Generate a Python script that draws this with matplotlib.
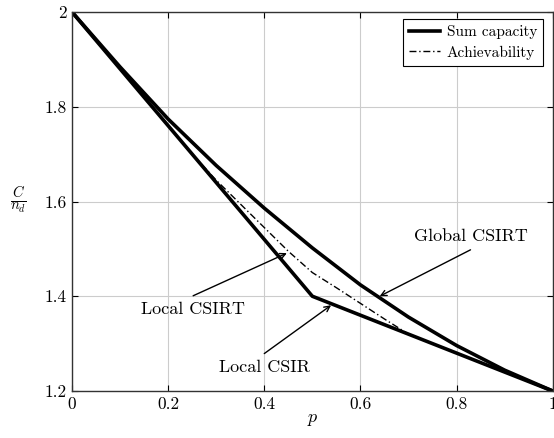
"""Sum capacity vs. erasure probability p (Global CSIRT / Local CSIR / Local CSIRT)."""
import matplotlib
matplotlib.use("Agg")
import matplotlib.pyplot as plt

# --- data ---
p_global = [0.0, 0.1, 0.2, 0.3, 0.4, 0.5, 0.6, 0.7, 0.8, 0.9, 1.0]
c_global = [2.0, 1.884, 1.774, 1.676, 1.586, 1.502, 1.424, 1.356, 1.296, 1.244, 1.2]

p_local_csir = [0.0, 0.5, 1.0]
c_local_csir = [2.0, 1.4, 1.2]

p_achiev = [0.25, 0.3, 0.35, 0.4, 0.45, 0.5, 0.55, 0.6, 0.65, 0.7]
c_achiev = [1.700, 1.645, 1.595, 1.545, 1.495, 1.450, 1.418, 1.385, 1.352, 1.320]

x_ticks = [0, 0.2, 0.4, 0.6, 0.8, 1]
y_ticks = [1.2, 1.4, 1.6, 1.8, 2]

# annotations: label, arrow tail (where text sits), arrow head
annotations = [
    ("Local CSIRT", (0.252, 1.401), (0.447, 1.491), "top"),
    ("Local CSIR", (0.400, 1.279), (0.539, 1.381), "top"),
    ("Global CSIRT", (0.829, 1.498), (0.640, 1.400), "bottom"),
]

plt.rcParams["font.family"] = "serif"
plt.rcParams["font.serif"] = ["cmr10", "DejaVu Serif"]
plt.rcParams["mathtext.fontset"] = "cm"
plt.rcParams["axes.formatter.use_mathtext"] = True

fig = plt.figure(figsize=(5.54, 4.38), dpi=100)
ax = fig.add_axes([72 / 554, 1 - 391 / 438, 480.7 / 554, 379 / 438])

ax.plot(p_global, c_global, color="black", lw=2.6, label="Sum capacity")
ax.plot(p_local_csir, c_local_csir, color="black", lw=2.6)
ax.plot(p_achiev, c_achiev, color="black", lw=1.0, linestyle=(0, (5, 2, 1, 2)),
        label="Achievability")

for text, tail, head, va in annotations:
    ax.annotate("", xy=head, xytext=tail,
                arrowprops=dict(arrowstyle="->", lw=1.0, color="black",
                                shrinkA=0, shrinkB=0))
    dy = -0.012 if va == "top" else 0.012
    ax.text(tail[0], tail[1] + dy, text, ha="center", va=va, fontsize=13)

ax.set_xlim(0, 1)
ax.set_ylim(1.2, 2)
ax.set_xticks(x_ticks)
ax.set_yticks(y_ticks)
ax.set_xticklabels(["%g" % v for v in x_ticks])
ax.set_yticklabels(["%g" % v for v in y_ticks])
ax.tick_params(direction="in", length=4, width=0.8, top=True, right=True,
               labelsize=12.5, pad=4)
ax.grid(True, color="#cccccc", lw=0.8)
ax.set_axisbelow(True)
for s in ax.spines.values():
    s.set_linewidth(1.0)
    s.set_color("#333333")

ax.set_xlabel("$p$", fontsize=13, labelpad=0)
ax.text(-0.112, 0.505, r"$\frac{C}{n_d}$", transform=ax.transAxes,
        fontsize=15, ha="center", va="center")

leg = ax.legend(loc="upper right", fontsize=11, frameon=True, fancybox=False,
                edgecolor="black", framealpha=1, handlelength=2.0,
                borderpad=0.4, labelspacing=0.4, handletextpad=0.45,
                borderaxespad=0, bbox_to_anchor=(0.98, 0.981))
leg.get_frame().set_linewidth(0.8)

fig.savefig("out.png", dpi=100)
